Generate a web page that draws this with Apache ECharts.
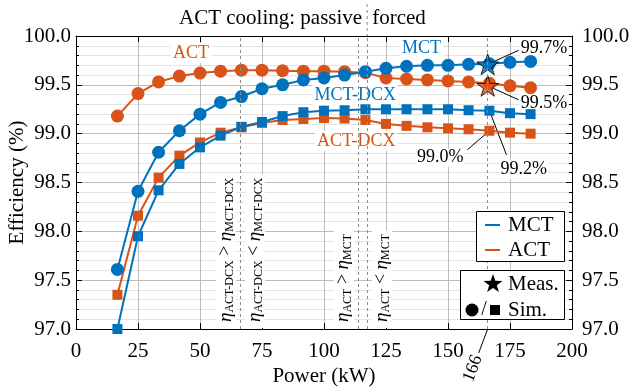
<!DOCTYPE html>
<html>
<head>
<meta charset="utf-8">
<script src="https://cdn.jsdelivr.net/npm/echarts@6/dist/echarts.min.js"></script>
<style>
  html, body { margin: 0; padding: 0; background: #fff; }
  #chart { width: 633px; height: 387px; }
</style>
</head>
<body>
<div id="chart"></div>
<script>
// Converter efficiency vs. output power: simulated curves and measured points
const BLUE = '#0072BD';
const ORANGE = '#D95319';
const SERIF = '"Liberation Serif", "Times New Roman", serif';

const power = [16.7, 25, 33.3, 41.7, 50, 58.3, 66.7, 75, 83.3, 91.7, 100, 108.3, 116.7, 125, 133.3, 141.7, 150, 158.3, 166.7, 175, 183.3];
const mctEff = [97.61, 98.41, 98.81, 99.03, 99.20, 99.32, 99.38, 99.46, 99.50, 99.55, 99.57, 99.60, 99.635, 99.67, 99.69, 99.70, 99.70, 99.71, 99.715, 99.73, 99.74];
const actEff = [99.18, 99.41, 99.53, 99.59, 99.62, 99.64, 99.65, 99.65, 99.645, 99.64, 99.64, 99.635, 99.625, 99.57, 99.56, 99.55, 99.54, 99.53, 99.515, 99.49, 99.47];
const mctDcxEff = [97.00, 97.95, 98.42, 98.69, 98.86, 98.98, 99.07, 99.12, 99.18, 99.22, 99.235, 99.24, 99.25, 99.25, 99.25, 99.25, 99.25, 99.24, 99.235, 99.21, 99.20];
const actDcxEff = [97.35, 98.16, 98.55, 98.775, 98.91, 99.01, 99.065, 99.11, 99.14, 99.15, 99.16, 99.155, 99.14, 99.10, 99.08, 99.065, 99.055, 99.045, 99.03, 99.01, 99.00];

// measured operating point (kW) and efficiencies (%)
const measPower = 166;
const measMct = 99.71;
const measAct = 99.49;

// power levels where the efficiency ranking changes / cooling switches
const dcxCross = 66.2;
const actMctCross = 113.7;
const coolingSwitch = 117.4;

const STAR = 'path://M50,0 L61,35 L98,35 L68,57 L79,91 L50,70 L21,91 L32,57 L2,35 L39,35 Z';

const pairs = (xs, ys) => xs.map((x, i) => [x, ys[i]]);

function lineSeries(name, ys, color, symbol, size) {
  return {
    name, type: 'line', data: pairs(power, ys),
    symbol, symbolSize: size, showAllSymbol: true,
    itemStyle: { color },
    lineStyle: { color, width: 2 },
    emphasis: { disabled: true }
  };
}

const axisFont = { fontFamily: SERIF, fontSize: 21, color: '#000' };

const option = {
  animation: false,
  backgroundColor: '#fff',
  textStyle: { fontFamily: SERIF },
  grid: { left: 76, right: 61, top: 36, bottom: 58, containLabel: false, outerBoundsMode: 'none' },
  xAxis: [
    {
      type: 'value', min: 0, max: 200, interval: 25, position: 'bottom',
      name: 'Power (kW)', nameLocation: 'middle', nameGap: 37, nameMoveOverlap: false, nameTextStyle: axisFont,
      axisLine: { show: true, onZero: false, lineStyle: { color: '#000', width: 1 } },
      axisTick: { show: true, inside: true, length: 6, lineStyle: { color: '#000' } },
      axisLabel: Object.assign({ margin: 12 }, axisFont),
      splitLine: { show: true, lineStyle: { color: '#bdbdbd', width: 1 } }
    },
    {
      type: 'value', min: 0, max: 200, interval: 25, position: 'top',
      axisLine: { show: true, onZero: false, lineStyle: { color: '#000', width: 1 } },
      axisTick: { show: true, inside: true, length: 6, lineStyle: { color: '#000' } },
      axisLabel: { show: false },
      splitLine: { show: false }
    }
  ],
  yAxis: [
    {
      type: 'value', min: 97, max: 100, interval: 0.5, position: 'left',
      name: 'Efficiency (%)', nameLocation: 'middle', nameGap: 48, nameMoveOverlap: false, nameTextStyle: axisFont,
      axisLine: { show: true, onZero: false, lineStyle: { color: '#000', width: 1 } },
      axisTick: { show: true, inside: true, length: 6, lineStyle: { color: '#000' } },
      minorTick: { show: true, splitNumber: 5, length: 3, lineStyle: { color: '#000' } },
      minorSplitLine: { show: true, lineStyle: { color: '#e4e4e4', width: 1 } },
      splitLine: { show: true, lineStyle: { color: '#bdbdbd', width: 1 } },
      axisLabel: Object.assign({ margin: 5, formatter: v => v.toFixed(1) }, axisFont)
    },
    {
      type: 'value', min: 97, max: 100, interval: 0.5, position: 'right',
      axisLine: { show: true, onZero: false, lineStyle: { color: '#000', width: 1 } },
      axisTick: { show: true, inside: true, length: 6, lineStyle: { color: '#000' } },
      minorTick: { show: true, splitNumber: 5, length: 3, lineStyle: { color: '#000' } },
      splitLine: { show: false },
      axisLabel: Object.assign({ margin: 10, formatter: v => v.toFixed(1) }, axisFont)
    }
  ],
  series: [
    Object.assign(lineSeries('ACT-DCX', actDcxEff, ORANGE, 'rect', 10), {
      markLine: {
        silent: true, symbol: ['none', 'none'], label: { show: false },
        lineStyle: { type: [3, 3], color: '#8c8c8c', width: 1 },
        data: [{ xAxis: dcxCross }, { xAxis: actMctCross }, { xAxis: coolingSwitch }, { xAxis: measPower }]
      }
    }),
    lineSeries('MCT-DCX', mctDcxEff, BLUE, 'rect', 10),
    lineSeries('ACT', actEff, ORANGE, 'circle', 13),
    lineSeries('MCT', mctEff, BLUE, 'circle', 13),
    {
      name: 'Meas.', type: 'scatter', symbol: STAR, symbolSize: 22, symbolKeepAspect: true,
      itemStyle: { borderColor: '#000', borderWidth: 1 },
      emphasis: { disabled: true }, z: 4,
      data: [
        { value: [measPower, measMct], itemStyle: { color: BLUE } },
        { value: [measPower, measAct], itemStyle: { color: ORANGE } }
      ]
    }
  ]
};

const chart = echarts.init(document.getElementById('chart'), null, { renderer: 'canvas' });
chart.setOption(option);

const toPx = (x, y) => chart.convertToPixel({ xAxisIndex: 0, yAxisIndex: 0 }, [x, y]);
const [, yBottom] = toPx(0, 97);
const [, yTop] = toPx(0, 100);

const etaRich = {
  e: { fontFamily: SERIF, fontStyle: 'italic', fontSize: 19, verticalAlign: 'top', lineHeight: 20, padding: [0, 0, 2, 0], fill: '#000' },
  s: { fontFamily: SERIF, fontSize: 12, verticalAlign: 'bottom', lineHeight: 13, fill: '#000' },
  o: { fontFamily: SERIF, fontSize: 18, verticalAlign: 'top', lineHeight: 20, fill: '#000' }
};
const etaText = (a, rel, b) => `{e|η}{s|${a}}{o| ${rel} }{e|η}{s|${b}}`;

function rotatedNote(xVal, side, text) {
  const x = toPx(xVal, 97)[0];
  return {
    type: 'text', z: 1,
    x: side === 'left' ? x - 4 : x + 5, y: yBottom - 1,
    rotation: Math.PI / 2,
    style: {
      text, rich: etaRich, align: 'left',
      verticalAlign: side === 'left' ? 'bottom' : 'top',
      backgroundColor: '#fff', padding: [0, 3, 0, 6], fill: '#000'
    }
  };
}

function boxLabel(xVal, yVal, text, color) {
  const [x, y] = toPx(xVal, yVal);
  return {
    type: 'text', z: 3, x, y,
    style: {
      text, fill: color, font: '18px ' + SERIF, align: 'center', verticalAlign: 'middle',
      backgroundColor: '#fff', padding: [1, 2, 1, 2]
    }
  };
}

function callout(xVal, yVal, dx1, dy1, dx2, dy2, align, text) {
  const [x, y] = toPx(xVal, yVal);
  return [
    { type: 'line', z: 1, shape: { x1: x, y1: y, x2: x + dx1, y2: y + dy1 }, style: { stroke: '#000', lineWidth: 1 } },
    {
      type: 'text', z: 3, x: x + dx2, y: y + dy2,
      style: { text, fill: '#000', font: '18px ' + SERIF, align, verticalAlign: 'middle', backgroundColor: '#fff', padding: [0, 1, 0, 1] }
    }
  ];
}

function starPoints(cx, cy, r) {
  const pts = [];
  for (let i = 0; i < 10; i++) {
    const rr = i % 2 === 0 ? r : r * 0.4;
    const a = -Math.PI / 2 + i * Math.PI / 5;
    pts.push([cx + rr * Math.cos(a), cy + rr * Math.sin(a)]);
  }
  return pts;
}

const i166 = power.indexOf(166.7);
const sepX = toPx(coolingSwitch, 100)[0];
const [mx, my] = toPx(measPower, 97);
const legendFont = '21px ' + SERIF;

const graphics = [
  // efficiency ranking notes
  rotatedNote(dcxCross, 'left', etaText('ACT-DCX', '>', 'MCT-DCX')),
  rotatedNote(dcxCross, 'right', etaText('ACT-DCX', '<', 'MCT-DCX')),
  rotatedNote(actMctCross, 'left', etaText('ACT', '>', 'MCT')),
  rotatedNote(coolingSwitch, 'right', etaText('ACT', '<', 'MCT')),

  // cooling regime header
  { type: 'line', z: 1, shape: { x1: sepX, y1: 4, x2: sepX, y2: yTop }, style: { stroke: '#8c8c8c', lineWidth: 1, lineDash: [3, 3] } },
  { type: 'text', x: sepX - 5, y: 18, style: { text: 'ACT cooling: passive', font: '21px ' + SERIF, fill: '#000', align: 'right', verticalAlign: 'middle' } },
  { type: 'text', x: sepX + 5, y: 18, style: { text: 'forced', font: '21px ' + SERIF, fill: '#000', align: 'left', verticalAlign: 'middle' } },

  // curve names
  boxLabel(46.4, 99.826, 'ACT', ORANGE),
  boxLabel(139.3, 99.877, 'MCT', BLUE),
  boxLabel(112.6, 99.396, 'MCT-DCX', BLUE),
  boxLabel(113, 98.925, 'ACT-DCX', ORANGE),

  // value callouts at the measured operating point
  ...callout(measPower, measMct, 31, -14, 32, -16, 'left', measMct.toFixed(1) + '%'),
  ...callout(measPower, measAct, 31, 14, 32, 17, 'left', measAct.toFixed(1) + '%'),
  ...callout(power[i166], actDcxEff[i166], -22, 19, -25, 27, 'right', actDcxEff[i166].toFixed(1) + '%'),
  ...callout(power[i166], mctDcxEff[i166], 17, 44, 10, 59, 'left', mctDcxEff[i166].toFixed(1) + '%'),

  // measured power marker below the axis
  { type: 'line', shape: { x1: mx, y1: my, x2: mx - 9, y2: my + 24 }, style: { stroke: '#000', lineWidth: 1 } },
  {
    type: 'text', x: mx - 10, y: my + 27, rotation: 69 * Math.PI / 180,
    style: { text: String(measPower), font: '18px ' + SERIF, fill: '#000', align: 'right', verticalAlign: 'middle' }
  },

  // legend: converter type
  { type: 'rect', z: 5, shape: { x: 476.5, y: 211.5, width: 88, height: 50 }, style: { fill: '#fff', stroke: '#000', lineWidth: 1 } },
  { type: 'line', z: 6, shape: { x1: 485, y1: 225, x2: 500, y2: 225 }, style: { stroke: BLUE, lineWidth: 2 } },
  { type: 'text', z: 6, x: 508, y: 225, style: { text: 'MCT', font: legendFont, fill: '#000', align: 'left', verticalAlign: 'middle' } },
  { type: 'line', z: 6, shape: { x1: 485, y1: 250, x2: 500, y2: 250 }, style: { stroke: ORANGE, lineWidth: 2 } },
  { type: 'text', z: 6, x: 508, y: 250, style: { text: 'ACT', font: legendFont, fill: '#000', align: 'left', verticalAlign: 'middle' } },

  // legend: data source
  { type: 'rect', z: 5, shape: { x: 460.5, y: 270.5, width: 104, height: 49 }, style: { fill: '#fff', stroke: '#000', lineWidth: 1 } },
  { type: 'polygon', z: 6, shape: { points: starPoints(493, 284, 10) }, style: { fill: '#000' } },
  { type: 'text', z: 6, x: 508, y: 284, style: { text: 'Meas.', font: legendFont, fill: '#000', align: 'left', verticalAlign: 'middle' } },
  { type: 'circle', z: 6, shape: { cx: 472, cy: 310, r: 6.5 }, style: { fill: '#000' } },
  { type: 'text', z: 6, x: 484, y: 310, style: { text: '/', font: '20px ' + SERIF, fill: '#000', align: 'center', verticalAlign: 'middle' } },
  { type: 'rect', z: 6, shape: { x: 490, y: 305, width: 10, height: 10 }, style: { fill: '#000' } },
  { type: 'text', z: 6, x: 508, y: 310, style: { text: 'Sim.', font: legendFont, fill: '#000', align: 'left', verticalAlign: 'middle' } }
];

chart.setOption({ graphic: { elements: graphics } });
</script>
</body>
</html>
